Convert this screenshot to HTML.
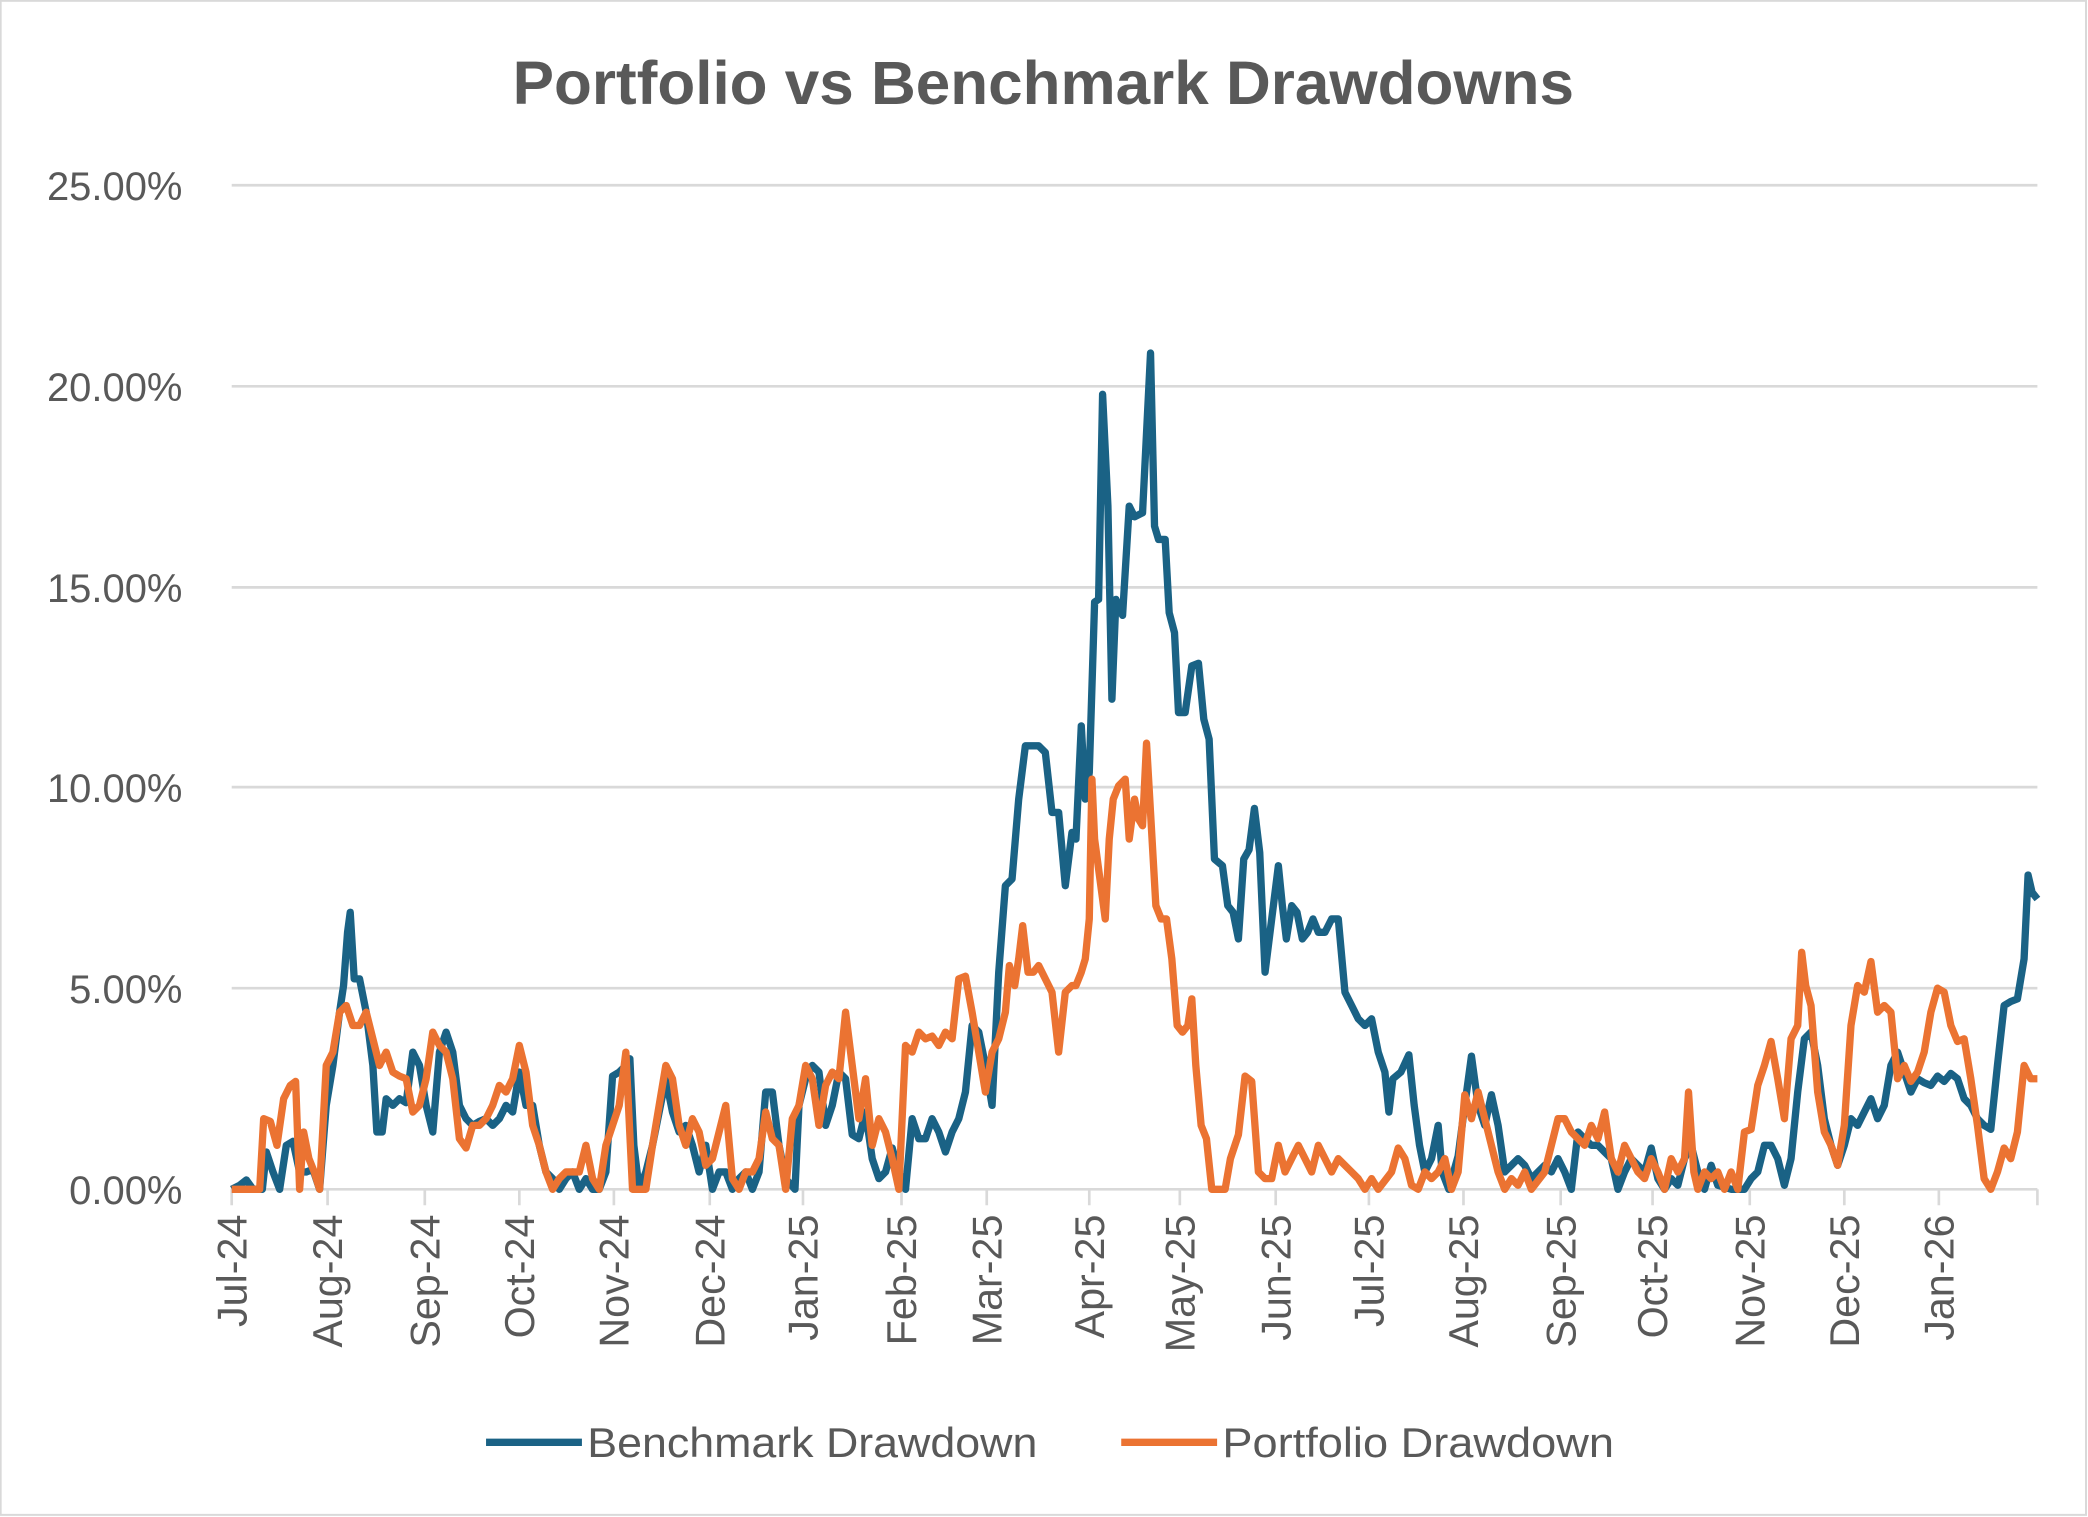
<!DOCTYPE html>
<html><head><meta charset="utf-8"><style>html,body{margin:0;padding:0;background:#fff}svg{display:block}</style></head>
<body>
<svg width="2088" height="1517" viewBox="0 0 1568 1139" xmlns="http://www.w3.org/2000/svg" font-family="Liberation Sans, sans-serif">
<rect x="0.5" y="0.5" width="1566" height="1137" fill="#fff" stroke="#d9d9d9" stroke-width="1.5"/>
<text x="385" y="78" textLength="797" lengthAdjust="spacingAndGlyphs" font-size="46" font-weight="bold" fill="#595959">Portfolio vs Benchmark Drawdowns</text>
<g stroke="#d9d9d9" stroke-width="2">
<line x1="174" x2="1530" y1="139" y2="139"/><line x1="174" x2="1530" y1="290" y2="290"/><line x1="174" x2="1530" y1="441" y2="441"/><line x1="174" x2="1530" y1="591" y2="591"/><line x1="174" x2="1530" y1="742" y2="742"/><line x1="174" x2="1530" y1="893" y2="893"/>
<line x1="174" x2="174" y1="893" y2="905"/><line x1="246" x2="246" y1="893" y2="905"/><line x1="319" x2="319" y1="893" y2="905"/><line x1="390" x2="390" y1="893" y2="905"/><line x1="461" x2="461" y1="893" y2="905"/><line x1="533" x2="533" y1="893" y2="905"/><line x1="603" x2="603" y1="893" y2="905"/><line x1="677" x2="677" y1="893" y2="905"/><line x1="741" x2="741" y1="893" y2="905"/><line x1="818" x2="818" y1="893" y2="905"/><line x1="886" x2="886" y1="893" y2="905"/><line x1="958" x2="958" y1="893" y2="905"/><line x1="1028" x2="1028" y1="893" y2="905"/><line x1="1099" x2="1099" y1="893" y2="905"/><line x1="1172" x2="1172" y1="893" y2="905"/><line x1="1241" x2="1241" y1="893" y2="905"/><line x1="1314" x2="1314" y1="893" y2="905"/><line x1="1385" x2="1385" y1="893" y2="905"/><line x1="1456" x2="1456" y1="893" y2="905"/><line x1="1530" x2="1530" y1="893" y2="905"/>
</g>
<g font-size="30" fill="#595959" text-anchor="end">
<text x="137" y="150">25.00%</text><text x="137" y="301">20.00%</text><text x="137" y="452">15.00%</text><text x="137" y="602">10.00%</text><text x="137" y="753">5.00%</text><text x="137" y="904">0.00%</text>
</g>
<g font-size="31" fill="#595959" text-anchor="end">
<text transform="translate(185,912) rotate(-90)">Jul-24</text>
<text transform="translate(257,912) rotate(-90)">Aug-24</text>
<text transform="translate(330,912) rotate(-90)">Sep-24</text>
<text transform="translate(401,912) rotate(-90)">Oct-24</text>
<text transform="translate(472,912) rotate(-90)">Nov-24</text>
<text transform="translate(544,912) rotate(-90)">Dec-24</text>
<text transform="translate(614,912) rotate(-90)">Jan-25</text>
<text transform="translate(688,912) rotate(-90)">Feb-25</text>
<text transform="translate(752,912) rotate(-90)">Mar-25</text>
<text transform="translate(829,912) rotate(-90)">Apr-25</text>
<text transform="translate(897,912) rotate(-90)">May-25</text>
<text transform="translate(969,912) rotate(-90)">Jun-25</text>
<text transform="translate(1039,912) rotate(-90)">Jul-25</text>
<text transform="translate(1110,912) rotate(-90)">Aug-25</text>
<text transform="translate(1183,912) rotate(-90)">Sep-25</text>
<text transform="translate(1252,912) rotate(-90)">Oct-25</text>
<text transform="translate(1325,912) rotate(-90)">Nov-25</text>
<text transform="translate(1396,912) rotate(-90)">Dec-25</text>
<text transform="translate(1467,912) rotate(-90)">Jan-26</text>
</g>
<polyline fill="none" stroke="#1a6285" stroke-width="5.5" stroke-linejoin="round" points="174,893 180,890 185,886 190,893 197,893 200,865 205,880 210,893 215,860 220,857 225,880 230,880 235,878 240,893 245,830 250,800 255,760 258,740 261,700 263,685 266,735 270,735 275,760 280,800 283,850 287,850 290,825 295,830 300,825 305,828 310,790 315,800 320,830 325,850 330,790 335,775 340,790 345,830 350,840 355,845 360,842 365,840 370,845 375,840 380,830 385,835 390,805 395,830 400,830 405,860 410,880 415,885 420,893 425,885 430,880 435,893 440,885 445,893 450,893 455,880 460,808 465,805 470,800 473,795 476,860 480,893 485,880 490,860 495,835 500,810 505,835 510,850 515,845 520,860 525,880 530,860 535,893 540,880 545,880 550,893 555,885 560,880 565,893 570,880 575,820 580,820 585,860 590,885 597,893 600,830 605,810 610,800 615,805 620,845 625,830 630,805 635,810 640,852 645,855 650,835 655,870 660,885 665,880 670,862 675,880 680,893 685,840 690,855 695,855 700,840 705,850 710,865 715,850 720,840 725,820 730,770 735,775 740,800 745,830 750,730 755,665 760,660 765,600 770,560 775,560 780,560 785,565 790,610 795,610 800,665 805,625 808,630 812,545 815,600 818,580 822,452 825,450 828,296 832,380 835,525 838,450 843,462 848,380 852,388 858,385 864,265 867,395 870,405 875,405 878,460 882,475 885,535 890,535 895,500 900,498 904,540 908,555 912,645 918,650 922,680 926,685 930,705 934,645 938,638 942,607 946,640 950,730 955,690 960,650 963,680 966,705 970,680 974,685 978,705 982,700 986,690 990,700 995,700 1000,690 1005,690 1010,745 1015,755 1020,765 1025,770 1030,765 1035,790 1040,805 1043,835 1046,810 1052,805 1058,792 1062,830 1066,860 1070,880 1075,870 1080,845 1083,880 1088,893 1095,868 1100,830 1105,793 1110,830 1115,845 1120,822 1125,845 1130,880 1135,875 1140,870 1145,875 1150,885 1155,880 1160,875 1165,880 1170,870 1175,880 1180,893 1185,850 1190,855 1195,860 1200,860 1205,865 1210,870 1215,893 1220,880 1225,870 1230,875 1235,880 1240,862 1245,885 1250,893 1255,885 1260,890 1265,870 1270,860 1275,880 1280,893 1285,875 1290,890 1300,893 1310,893 1315,885 1320,880 1325,860 1330,860 1335,870 1340,890 1345,870 1350,820 1355,780 1360,775 1365,800 1370,840 1375,860 1380,875 1385,860 1390,840 1395,845 1400,835 1405,825 1410,840 1415,830 1420,800 1425,790 1430,805 1435,820 1440,810 1445,813 1450,815 1455,808 1460,812 1465,806 1470,810 1475,825 1480,830 1485,840 1490,845 1495,848 1500,800 1505,755 1510,752 1515,750 1520,720 1523,657 1526,670 1530,675"/>
<polyline fill="none" stroke="#eb7332" stroke-width="5.5" stroke-linejoin="round" points="174,893 195,893 198,840 203,842 208,860 213,825 218,815 222,812 225,893 228,850 232,870 236,880 240,893 245,800 250,790 255,760 260,755 265,770 270,770 275,760 280,780 285,800 290,790 295,805 300,808 305,810 310,835 315,830 320,810 325,775 330,785 335,790 340,810 345,855 350,862 355,845 360,845 365,840 370,830 375,815 380,820 385,810 390,785 395,805 400,845 405,860 410,880 415,893 420,885 425,880 430,880 435,880 440,860 445,885 450,893 455,860 460,845 465,830 470,790 475,893 485,893 490,860 495,830 500,800 505,810 510,845 515,860 520,840 525,850 530,875 535,870 540,850 545,830 550,885 555,893 560,880 565,880 570,870 575,835 580,855 585,860 590,893 595,840 600,830 605,800 610,810 615,845 620,815 625,805 630,810 635,760 640,800 645,840 650,810 655,860 660,840 665,850 670,870 675,893 680,785 685,790 690,775 695,780 700,778 705,785 710,775 715,780 720,735 725,733 730,760 735,790 740,820 745,790 750,780 755,760 758,725 762,740 765,720 768,695 772,730 776,730 780,725 785,735 790,745 795,790 800,745 805,740 808,740 812,730 815,720 818,690 820,585 822,630 826,660 830,690 833,630 836,600 840,590 845,585 848,630 852,600 855,615 858,620 861,558 864,610 868,680 872,690 876,690 880,720 884,770 888,775 892,770 895,750 898,800 902,845 906,855 910,893 920,893 924,870 930,852 935,808 940,812 945,880 950,885 955,885 960,860 965,880 970,870 975,860 980,870 985,880 990,860 995,870 1000,880 1005,870 1010,875 1015,880 1020,885 1025,893 1030,885 1035,893 1045,880 1050,862 1055,870 1060,890 1065,893 1070,880 1075,885 1080,880 1085,870 1090,893 1095,880 1100,822 1105,840 1110,820 1115,840 1120,860 1125,880 1130,893 1135,885 1140,890 1145,880 1150,893 1160,880 1165,860 1170,840 1175,840 1180,850 1185,855 1190,860 1195,845 1200,855 1205,835 1210,870 1215,880 1220,860 1225,870 1230,880 1235,885 1240,870 1245,880 1250,893 1255,870 1260,880 1265,870 1268,820 1272,880 1275,893 1280,880 1285,885 1290,880 1295,893 1300,880 1305,893 1310,850 1315,848 1320,815 1325,800 1330,782 1335,810 1340,840 1345,780 1350,770 1353,715 1356,740 1360,755 1365,820 1370,850 1375,860 1380,875 1385,845 1390,770 1395,740 1400,745 1405,722 1410,760 1415,755 1420,760 1425,810 1430,800 1435,812 1440,805 1445,790 1450,760 1455,742 1460,745 1465,770 1470,782 1475,780 1480,810 1485,845 1490,885 1495,893 1500,880 1505,862 1510,870 1515,850 1520,800 1525,810 1530,810"/>
<line x1="365" y1="1083" x2="437" y2="1083" stroke="#1a6285" stroke-width="5.5"/>
<text x="441" y="1094" textLength="338" lengthAdjust="spacingAndGlyphs" font-size="31" fill="#595959">Benchmark Drawdown</text>
<line x1="842" y1="1083" x2="914" y2="1083" stroke="#eb7332" stroke-width="5.5"/>
<text x="918" y="1094" textLength="294" lengthAdjust="spacingAndGlyphs" font-size="31" fill="#595959">Portfolio Drawdown</text>
</svg>
</body></html>
